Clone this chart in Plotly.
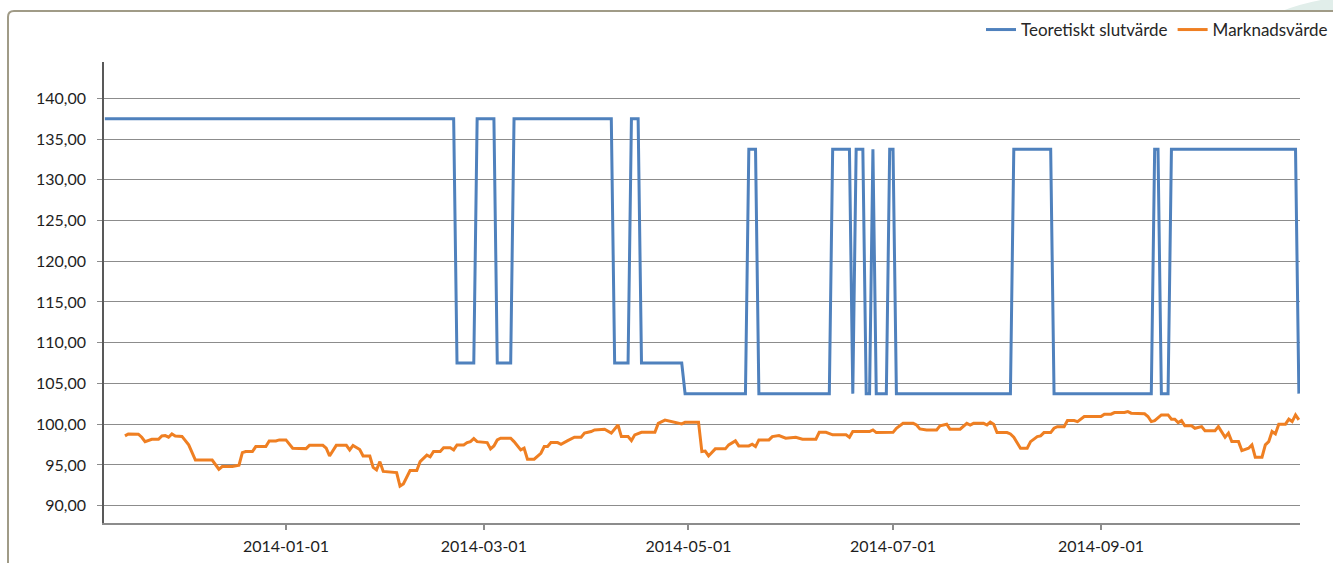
import plotly.graph_objects as go

# ---------------- data ----------------
theo_dates = [
    "2013-11-08", "2014-02-20", "2014-02-21", "2014-02-26", "2014-02-27", "2014-03-04",
    "2014-03-05", "2014-03-09", "2014-03-10", "2014-04-08", "2014-04-09", "2014-04-13",
    "2014-04-14", "2014-04-16", "2014-04-17", "2014-04-29", "2014-04-30", "2014-05-18",
    "2014-05-19", "2014-05-21", "2014-05-22", "2014-06-12", "2014-06-13", "2014-06-18",
    "2014-06-19", "2014-06-20", "2014-06-22", "2014-06-23", "2014-06-24", "2014-06-25",
    "2014-06-26", "2014-06-29", "2014-06-30", "2014-07-01", "2014-07-02", "2014-08-05",
    "2014-08-06", "2014-08-17", "2014-08-18", "2014-09-16", "2014-09-17", "2014-09-18",
    "2014-09-19", "2014-09-21", "2014-09-22", "2014-10-29", "2014-10-30",
]
theo_values = [
    137.5, 137.5, 107.5, 107.5, 137.5, 137.5,
    107.5, 107.5, 137.5, 137.5, 107.5, 107.5,
    137.5, 137.5, 107.5, 107.5, 103.75, 103.75,
    133.75, 133.75, 103.75, 103.75, 133.75, 133.75,
    103.75, 133.75, 133.75, 103.75, 103.75, 133.75,
    103.75, 103.75, 133.75, 133.75, 103.75, 103.75,
    133.75, 133.75, 103.75, 103.75, 133.75, 133.75,
    103.75, 103.75, 133.75, 133.75, 103.75,
]

mkt_dates = [
    "2013-11-14", "2013-11-15", "2013-11-18", "2013-11-19", "2013-11-20", "2013-11-22",
    "2013-11-24", "2013-11-25", "2013-11-26", "2013-11-27", "2013-11-28", "2013-11-29",
    "2013-12-01", "2013-12-02", "2013-12-03", "2013-12-05", "2013-12-10", "2013-12-12",
    "2013-12-13", "2013-12-16", "2013-12-18", "2013-12-19", "2013-12-20", "2013-12-22",
    "2013-12-23", "2013-12-26", "2013-12-27", "2013-12-29", "2013-12-30", "2014-01-01",
    "2014-01-03", "2014-01-07", "2014-01-08", "2014-01-12", "2014-01-13", "2014-01-14",
    "2014-01-15", "2014-01-16", "2014-01-19", "2014-01-20", "2014-01-21", "2014-01-23",
    "2014-01-24", "2014-01-26", "2014-01-27", "2014-01-28", "2014-01-29", "2014-01-30",
    "2014-02-03", "2014-02-04", "2014-02-05", "2014-02-07", "2014-02-09", "2014-02-10",
    "2014-02-12", "2014-02-13", "2014-02-14", "2014-02-16", "2014-02-17", "2014-02-19",
    "2014-02-20", "2014-02-21", "2014-02-23", "2014-02-24", "2014-02-25", "2014-02-26",
    "2014-02-27", "2014-03-02", "2014-03-03", "2014-03-04", "2014-03-05", "2014-03-06",
    "2014-03-09", "2014-03-10", "2014-03-12", "2014-03-13", "2014-03-14", "2014-03-16",
    "2014-03-18", "2014-03-19", "2014-03-20", "2014-03-21", "2014-03-23", "2014-03-24",
    "2014-03-26", "2014-03-28", "2014-03-30", "2014-03-31", "2014-04-02", "2014-04-03",
    "2014-04-06", "2014-04-08", "2014-04-10", "2014-04-11", "2014-04-13", "2014-04-14",
    "2014-04-15", "2014-04-17", "2014-04-21", "2014-04-22", "2014-04-24", "2014-04-27",
    "2014-04-29", "2014-04-30", "2014-05-04", "2014-05-05", "2014-05-06", "2014-05-07",
    "2014-05-09", "2014-05-12", "2014-05-13", "2014-05-15", "2014-05-16", "2014-05-19",
    "2014-05-20", "2014-05-21", "2014-05-22", "2014-05-25", "2014-05-26", "2014-05-28",
    "2014-05-30", "2014-06-02", "2014-06-04", "2014-06-08", "2014-06-09", "2014-06-11",
    "2014-06-13", "2014-06-17", "2014-06-18", "2014-06-19", "2014-06-24", "2014-06-25",
    "2014-06-26", "2014-07-01", "2014-07-02", "2014-07-04", "2014-07-07", "2014-07-08",
    "2014-07-09", "2014-07-11", "2014-07-14", "2014-07-15", "2014-07-17", "2014-07-18",
    "2014-07-21", "2014-07-23", "2014-07-24", "2014-07-25", "2014-07-28", "2014-07-29",
    "2014-07-30", "2014-07-31", "2014-08-01", "2014-08-04", "2014-08-05", "2014-08-06",
    "2014-08-08", "2014-08-10", "2014-08-11", "2014-08-13", "2014-08-14", "2014-08-15",
    "2014-08-17", "2014-08-18", "2014-08-19", "2014-08-21", "2014-08-22", "2014-08-24",
    "2014-08-25", "2014-08-27", "2014-09-01", "2014-09-02", "2014-09-04", "2014-09-05",
    "2014-09-08", "2014-09-09", "2014-09-10", "2014-09-14", "2014-09-15", "2014-09-16",
    "2014-09-17", "2014-09-19", "2014-09-21", "2014-09-22", "2014-09-23", "2014-09-24",
    "2014-09-25", "2014-09-26", "2014-09-28", "2014-09-29", "2014-10-01", "2014-10-02",
    "2014-10-05", "2014-10-06", "2014-10-08", "2014-10-09", "2014-10-10", "2014-10-12",
    "2014-10-13", "2014-10-15", "2014-10-16", "2014-10-17", "2014-10-19", "2014-10-20",
    "2014-10-21", "2014-10-22", "2014-10-23", "2014-10-24", "2014-10-26", "2014-10-27",
    "2014-10-28", "2014-10-29", "2014-10-30",
]
mkt_values = [
    98.56, 98.8, 98.77, 98.4, 97.86, 98.15,
    98.15, 98.56, 98.6, 98.4, 98.8, 98.56,
    98.5, 97.9, 97.46, 95.6, 95.6, 94.47,
    94.8, 94.8, 94.97, 96.5, 96.64, 96.64,
    97.25, 97.25, 97.95, 97.95, 98.07, 98.07,
    97.05, 97.0, 97.4, 97.4, 97.05, 96.1,
    96.84, 97.4, 97.4, 96.84, 97.4, 96.9,
    96.1, 96.1, 94.7, 94.4, 95.4, 94.2,
    94.06, 92.4, 92.67, 94.3, 94.3, 95.4,
    96.2, 96.0, 96.64, 96.64, 97.1, 97.1,
    96.84, 97.46, 97.46, 97.74, 97.86, 98.23,
    97.86, 97.74, 96.97, 97.33, 98.07, 98.28,
    98.28, 97.86, 96.84, 97.05, 95.7, 95.7,
    96.43, 97.25, 97.25, 97.74, 97.74, 97.54,
    97.99, 98.4, 98.4, 98.9, 99.1, 99.3,
    99.38, 98.9, 99.9, 98.48, 98.48, 97.99,
    98.69, 99.0, 99.0, 100.1, 100.5, 100.25,
    100.03, 100.25, 100.25, 96.64, 96.7, 96.1,
    96.97, 96.97, 97.46, 97.95, 97.33, 97.33,
    97.54, 97.25, 98.07, 98.07, 98.48, 98.6,
    98.28, 98.4, 98.15, 98.15, 99.0, 99.0,
    98.69, 98.7, 98.4, 99.1, 99.1, 99.3,
    98.97, 99.0, 99.5, 100.1, 100.1, 99.9,
    99.42, 99.3, 99.3, 99.8, 100.0, 99.38,
    99.38, 100.1, 99.9, 100.1, 100.1, 99.9,
    100.25, 100.0, 98.97, 98.97, 98.8, 98.4,
    97.05, 97.05, 97.86, 98.48, 98.56, 98.97,
    98.97, 99.5, 99.7, 99.7, 100.44, 100.44,
    100.32, 100.94, 100.94, 101.23, 101.23, 101.43,
    101.43, 101.55, 101.35, 101.27, 100.94, 100.32,
    100.44, 101.14, 101.14, 100.61, 100.61, 100.2,
    100.44, 99.8, 99.8, 99.5, 99.7, 99.2,
    99.2, 99.7, 98.4, 98.9, 97.86, 97.86,
    96.76, 97.05, 97.46, 95.95, 95.95, 97.46,
    97.86, 99.1, 98.8, 100.0, 100.0, 100.61,
    100.32, 101.14, 100.53,
]

series_names = ["Teoretiskt slutvärde", "Marknadsvärde"]
y_ticks = [90, 95, 100, 105, 110, 115, 120, 125, 130, 135, 140]

# ---------------- layout ----------------
W, H = 1333, 563
ML, MR, MT, MB = 104, 33, 62, 40
PW, PH = W - ML - MR, H - MT - MB
FONT = "Lato, 'Open Sans', sans-serif"


def px(x):
    return (x - ML) / PW


def py(y):
    return (H - MB - y) / PH


fig = go.Figure()
fig.add_trace(go.Scatter(
    x=theo_dates, y=theo_values, mode="lines", name=series_names[0],
    line=dict(color="#4F81BD", width=3),
))
fig.add_trace(go.Scatter(
    x=mkt_dates, y=mkt_values, mode="lines", name=series_names[1],
    line=dict(color="#EF7F22", width=3),
))

frame_path = (
    f"M {px(8)},{py(600)} L {px(8)},{py(17)} "
    f"Q {px(8)},{py(11)} {px(14)},{py(11)} L {px(1360)},{py(11)}"
)
deco_path = (
    f"M {px(1282)},{py(11)} Q {px(1305)},{py(2)} {px(1333)},{py(-2)} "
    f"L {px(1340)},{py(11)} Z"
)

fig.update_layout(
    width=W, height=H,
    autosize=False,
    margin=dict(l=ML, r=MR, t=MT, b=MB, autoexpand=False),
    paper_bgcolor="white", plot_bgcolor="white",
    separators=", ",
    font=dict(family=FONT, size=16, color="#262626"),
    showlegend=True,
    legend=dict(
        orientation="h", xref="container", yref="container",
        x=1.0, xanchor="right", y=1 - 12 / H, yanchor="top",
        font=dict(family=FONT, size=17, color="#262626"),
        bgcolor="rgba(0,0,0,0)", traceorder="normal",
    ),
    xaxis=dict(
        type="date", automargin=False,
        range=["2013-11-07 18:00", "2014-10-30 08:00"],
        tick0="2014-01-01", dtick="M2", tickformat="%Y-%m-%d",
        showgrid=False, zeroline=False,
        showline=True, linecolor="#8C8C8C", linewidth=1.5,
        ticks="outside", ticklen=5, tickcolor="#8C8C8C", tickwidth=1.5,
        ticklabelstandoff=3,
        tickfont=dict(family=FONT, size=16, color="#1E1E1E"),
    ),
    yaxis=dict(
        automargin=False,
        range=[87.87, 144.46],
        tickvals=y_ticks, tickformat=".2f",
        showgrid=True, gridcolor="#8C8C8C", gridwidth=1,
        zeroline=False,
        showline=True, linecolor="#595959", linewidth=1.5,
        ticks="outside", ticklen=5, tickcolor="#8C8C8C", tickwidth=1,
        ticklabelstandoff=8,
        tickfont=dict(family=FONT, size=16, color="#1E1E1E"),
    ),
    shapes=[
        dict(type="path", xref="paper", yref="paper", path=deco_path,
             fillcolor="#E1EEEA", line=dict(width=0), layer="below"),
        dict(type="path", xref="paper", yref="paper", path=frame_path,
             line=dict(color="#A09B87", width=2), layer="above"),
    ],
)

fig.write_html(
    "out.html",
    config={"displayModeBar": False},
    post_script="document.body.style.margin='0';document.body.style.overflow='hidden';",
)
